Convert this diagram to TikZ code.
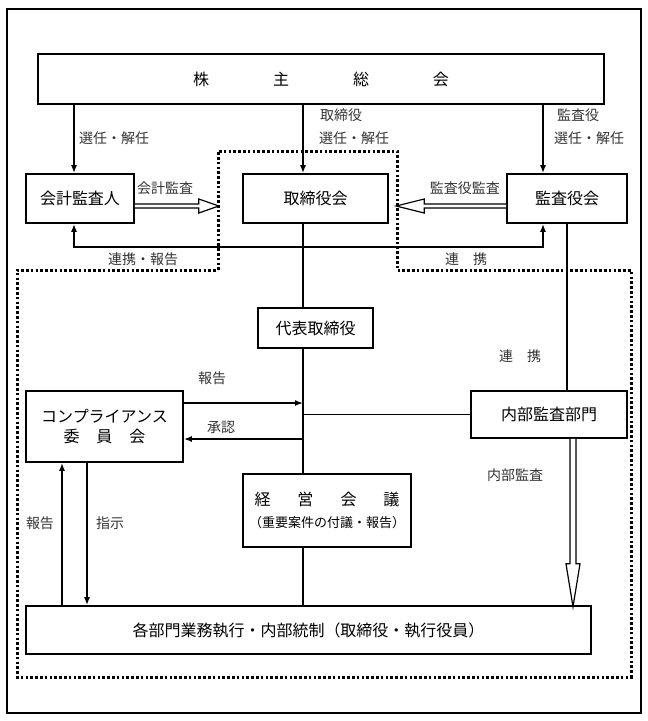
\documentclass[tikz,border=0pt]{standalone}
\usepackage{fontspec}
\setmainfont{Noto Sans CJK JP}
\usetikzlibrary{arrows.meta}

\begin{document}
\begin{tikzpicture}[x=1pt,y=-1pt,
		box/.style={draw,line width=1.6pt,inner sep=0pt,align=center,font=\fontsize{16}{20}\selectfont},
		lbl/.style={inner sep=0pt,text=black!80,font=\fontsize{14}{16}\selectfont},
		conn/.style={line width=1.5pt},
		arr/.style={line width=1.5pt,-{Latex[length=8pt,width=6pt]}},
		hollow/.style={line width=1.2pt,fill=white,line join=miter},
		zone/.style={line width=3pt,dash pattern=on 2.6pt off 2.2pt}]
	\useasboundingbox (0,0) rectangle (648,721);
	\draw[line width=1.5pt] (7,9) rectangle (641,713);

	% columns of the vertical connectors
	\coordinate (colA) at (74,0);
	\coordinate (colB) at (303,0);
	\coordinate (colC) at (543,0);
	\coordinate (colD) at (567,0);
	\coordinate (colF) at (62,0);
	\coordinate (colG) at (87,0);

	% dotted zone
	\draw[zone] (218,270) -- (218,151) -- (397,151) -- (397,270) -- (631,270) -- (631,677) -- (17,677) -- (17,270) -- cycle;

	\node[box,minimum width=566pt,minimum height=50pt] (soukai) at (321,79)
		{株\hspace{64pt}主\hspace{64pt}総\hspace{64pt}会};
	\node[box,minimum width=108pt,minimum height=49pt] (kaikei) at (80,198.5) {会計監査人};
	\node[box,minimum width=145pt,minimum height=49pt] (torishimari) at (315.5,198.5) {取締役会};
	\node[box,minimum width=120pt,minimum height=49pt] (kansayaku) at (567,198.5) {監査役会};
	\node[box,minimum width=115pt,minimum height=40pt] (daihyo) at (315.5,328) {代表取締役};
	\node[box,minimum width=157pt,minimum height=71pt] (compl) at (104.5,426.5)
		{コンプライアンス\\委\hspace{17pt}員\hspace{17pt}会};
	\node[box,minimum width=156pt,minimum height=47pt] (naibu) at (549,414.5) {内部監査部門};
	\node[box,minimum width=168pt,minimum height=73pt] (keiei) at (327,510.5)
		{経\hspace{27pt}営\hspace{27pt}会\hspace{27pt}議\\[2pt]
		{\fontsize{13}{15}\selectfont （重要案件の付議・報告）}};
	\node[box,minimum width=565pt,minimum height=48pt] (kakubu) at (308.5,630)
		{各部門業務執行・内部統制（取締役・執行役員）};

	% from the shareholders
	\draw[arr] (soukai.south -| colA) -- (kaikei.north -| colA);
	\draw[arr] (soukai.south -| colB) -- (torishimari.north -| colB);
	\draw[arr] (soukai.south -| colC) -- (kansayaku.north -| colC);
	\node[lbl,anchor=west] (senninA) at (79,138) {選任・解任};
	\node[lbl,anchor=west] (torishimariL) at (320,115) {取締役};
	\node[lbl,anchor=west] (senninB) at (319,138) {選任・解任};
	\node[lbl,anchor=west] (kansayakuL) at (557,115) {監査役};
	\node[lbl,anchor=west] (senninC) at (554,138) {選任・解任};

	% audits
	\draw[hollow] ([yshift=-5.5pt]kaikei.east) -- ++(64,0) -- ++(0,-5) -- ++(20,7) -- ++(-20,7) -- ++(0,-5) -- ++(-64,0);
	\draw[hollow] ([yshift=-5.5pt]kansayaku.west) -- ++(-82,0) -- ++(0,-5) -- ++(-28,7) -- ++(28,7) -- ++(0,-5) -- ++(82,0);
	\node[lbl,anchor=west] (kaikeiL) at (137,188) {会計監査};
	\node[lbl,anchor=east] (kansaL) at (500,188) {監査役監査};

	% cooperation
	\coordinate (renkei) at (0,247);
	\draw[line width=1.5pt,{Latex[length=8pt,width=6pt]}-{Latex[length=8pt,width=6pt]}]
		(kaikei.south -| colA) |- (renkei -| colC) -- (kansayaku.south -| colC);
	\node[lbl] (renkeiA) at (143,259) {連携・報告};
	\node[lbl] (renkeiB) at (466,259) {連\hspace{14pt}携};

	% trunk
	\draw[conn] (torishimari.south -| colB) -- (daihyo.north -| colB);
	\draw[conn] (daihyo.south -| colB) -- (keiei.north -| colB);
	\draw[conn] (keiei.south -| colB) -- (kakubu.north -| colB);
	\draw[conn] (naibu.west) -- (naibu.west -| colB);
	\draw[conn] (kansayaku.south -| colD) -- (naibu.north -| colD);
	\node[lbl] (renkeiC) at (520,356) {連\hspace{14pt}携};

	% compliance
	\coordinate (hokoku) at (303,403);
	\coordinate (shonin) at (303,439);
	\draw[arr] (compl.east |- hokoku) -- (hokoku);
	\draw[arr] (shonin) -- (compl.east |- shonin);
	\node[lbl] (hokokuL) at (212,378) {報告};
	\node[lbl] (shoninL) at (221,427) {承認};
	\draw[arr] (kakubu.north -| colF) -- (compl.south -| colF);
	\draw[arr] (compl.south -| colG) -- (kakubu.north -| colG);
	\node[lbl] (hokokuB) at (40,523) {報告};
	\node[lbl] (shijiL) at (110,523) {指示};

	% internal audit
	\draw[hollow] ([xshift=21pt]naibu.south) -- ++(0,125) -- ++(-4,0) -- ++(7,43) -- ++(7,-43) -- ++(-4,0) -- ++(0,-125);
	\node[lbl] (naibuL) at (515,475) {内部監査};
\end{tikzpicture}
\end{document}
